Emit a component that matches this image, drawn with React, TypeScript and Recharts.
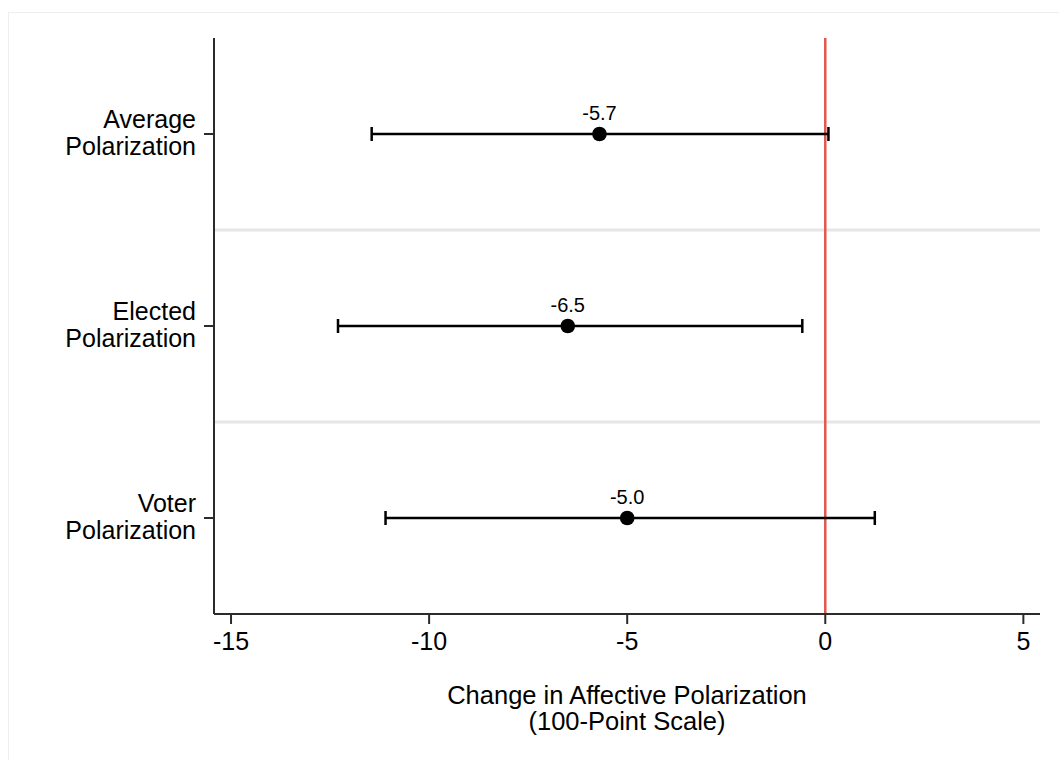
import {
  ErrorBar,
  Label,
  ReferenceLine,
  Scatter,
  ScatterChart,
  XAxis,
  YAxis,
} from "recharts";

const categories = [
  ["Average", "Polarization"],
  ["Elected", "Polarization"],
  ["Voter", "Polarization"],
];
const estimates = [-5.7, -6.5, -5.0];
const ciLow = [-11.45, -12.3, -11.1];
const ciHigh = [0.08, -0.58, 1.25];
const xTicks = [-15, -10, -5, 0, 5];
const xTitle = ["Change in Affective Polarization", "(100-Point Scale)"];

const rows = estimates.map((est, i) => ({
  pos: i + 1,
  est,
  label: est.toFixed(1),
  err: [est - ciLow[i], ciHigh[i] - est],
}));

const FONT = '"Liberation Sans", Arial, Helvetica, sans-serif';
const AXIS = "#2b2b2b";

function CategoryTick({ x, y, payload }: any) {
  const lines = categories[payload.value - 1] ?? [];
  return (
    <text x={x - 6} textAnchor="end" fontFamily={FONT} fontSize={25} fill="#000">
      <tspan x={x - 6} y={y - 6.5}>{lines[0]}</tspan>
      <tspan x={x - 6} y={y + 20.5}>{lines[1]}</tspan>
    </text>
  );
}

function PointShape({ cx, cy, payload }: any) {
  return (
    <g>
      <circle cx={cx} cy={cy} r={7.3} fill="#000" />
      <text
        x={cx}
        y={cy - 14.5}
        textAnchor="middle"
        fontFamily={FONT}
        fontSize={20}
        fill="#000"
      >
        {payload.label}
      </text>
    </g>
  );
}

function XTitle({ viewBox }: any) {
  const cx = viewBox.x + viewBox.width / 2;
  return (
    <text textAnchor="middle" fontFamily={FONT} fontSize={25.5} fill="#000">
      <tspan x={cx} y={704}>{xTitle[0]}</tspan>
      <tspan x={cx} y={730}>{xTitle[1]}</tspan>
    </text>
  );
}

export default function App() {
  return (
    <div
      style={{
        position: "absolute",
        left: 0,
        top: 0,
        width: 1059,
        height: 760,
        background: "#fff",
      }}
    >
      <div
        style={{
          position: "absolute",
          left: 8,
          top: 12,
          right: 0,
          bottom: 0,
          borderLeft: "1px solid #eeeeee",
          borderTop: "1px solid #eeeeee",
        }}
      />
      <div style={{ position: "absolute", left: 0, top: 0 }}>
        <ScatterChart
          width={1059}
          height={760}
          margin={{ top: 38, right: 19, bottom: 0, left: 0 }}
        >
          <XAxis
            type="number"
            dataKey="est"
            domain={[-15.43, 5.42]}
            ticks={xTicks}
            allowDataOverflow
            height={146}
            tickSize={10}
            tickMargin={8}
            stroke={AXIS}
            strokeWidth={2}
            tick={{ fill: "#000", fontSize: 25, fontFamily: FONT }}
          >
            <Label content={<XTitle />} />
          </XAxis>
          <YAxis
            type="number"
            dataKey="pos"
            domain={[0.5, 3.5]}
            ticks={[1, 2, 3]}
            reversed
            width={214}
            tickSize={10}
            stroke={AXIS}
            strokeWidth={2}
            tick={<CategoryTick />}
          />
          <ReferenceLine y={1.5} stroke="#e6e6e6" strokeWidth={3} />
          <ReferenceLine y={2.5} stroke="#e6e6e6" strokeWidth={3} />
          <ReferenceLine x={0} stroke="#e2574c" strokeWidth={2.5} />
          <Scatter data={rows} shape={<PointShape />} isAnimationActive={false}>
            <ErrorBar
              dataKey="err"
              direction="x"
              width={7}
              stroke="#000"
              strokeWidth={2.5}
              isAnimationActive={false}
            />
          </Scatter>
        </ScatterChart>
      </div>
    </div>
  );
}
